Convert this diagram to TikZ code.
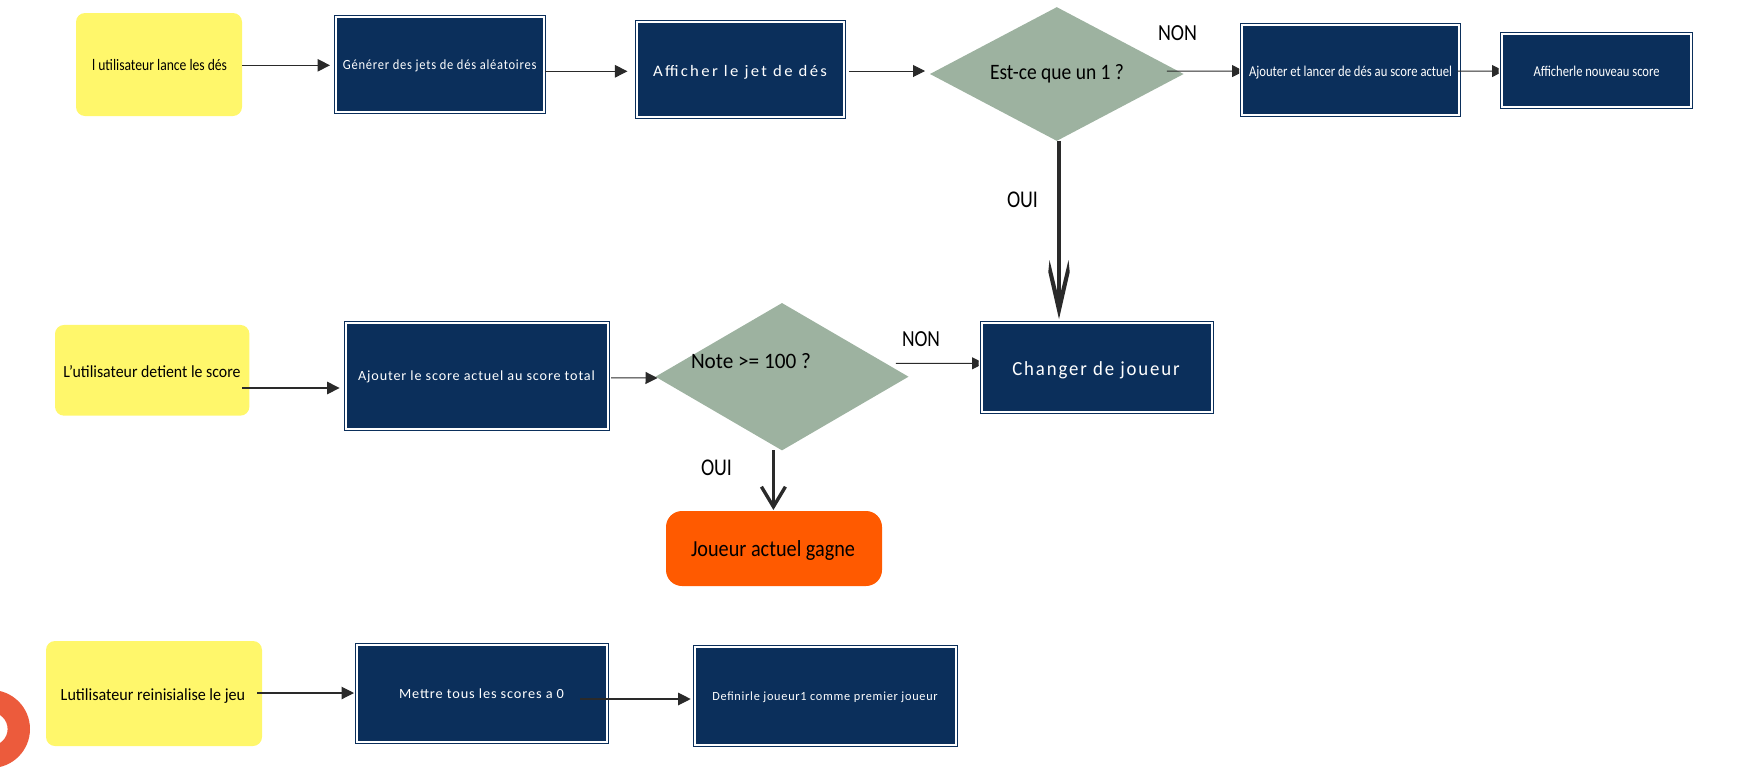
\documentclass[tikz,border=0pt]{standalone}
\usepackage{graphicx}
\usepackage{fontspec}
\setmainfont{Carlito}
\usetikzlibrary{arrows.meta,shapes.geometric,calc}
\definecolor{navy}{HTML}{0B2F5B}
\definecolor{sticky}{HTML}{FFF76B}
\definecolor{sage}{HTML}{9DB2A0}
\definecolor{flame}{HTML}{FF5A00}
\definecolor{coral}{HTML}{EC5B3C}
\definecolor{ink}{HTML}{2A2A2A}
\newcommand\ft[4]{\resizebox{#3}{\height}{\fontsize{#1pt}{#1pt}\selectfont\addfontfeature{LetterSpace=#2}#4}}
\tikzset{
  x=1pt,y=-1pt,
  sbox/.style={rectangle,draw=none,inner sep=0pt,outer sep=0pt,rounded corners=9pt},
  yellowbox/.style={sbox,fill=sticky},
  goalbox/.style={sbox,fill=flame,rounded corners=16pt},
  bluebox/.style={rectangle,inner sep=0pt,outer sep=0pt,fill=navy,draw=navy,line width=1pt,double=white,double distance=2pt},
  choice/.style={diamond,fill=sage,inner sep=0pt,outer sep=0pt},
  dark/.style={anchor=base,inner sep=0pt,text=black},
  light/.style={anchor=base,inner sep=0pt,text=white},
  link/.style={draw=ink,line width=1.1pt,-{Triangle[length=12.5pt,width=12.5pt]}},
  thin link/.style={draw=ink,line width=1pt,-{Triangle[length=12pt,width=12pt]}},
  heavy/.style={draw=ink,line width=3.4pt},
}
\begin{document}
\begin{tikzpicture}
\useasboundingbox (0,0) rectangle (1742,782);
% coral shape
\fill[coral,even odd rule] (-9,729) circle (39) (-9,729) circle (16.6);
% decisions
\node[choice,minimum width=253.6pt,minimum height=133.7pt] (d1) at (1056.8,74) {};
\node[choice,minimum width=253pt,minimum height=147.3pt] (d2) at (782,376.7) {};
% yellow
\node[yellowbox,minimum width=166pt,minimum height=103pt] (y1) at (159,64.5) {};
\node[yellowbox,minimum width=194.4pt,minimum height=90.7pt] (y2) at (152.2,370.3) {};
\node[yellowbox,minimum width=216pt,minimum height=105pt] (y3) at (154,693.5) {};
% goal
\node[goalbox,minimum width=216pt,minimum height=75pt] (g) at (774,548.5) {};
% blue
\node[bluebox,minimum width=208pt,minimum height=95pt] (b1) at (440,64.5) {};
\node[bluebox,minimum width=207.5pt,minimum height=95pt] (b2) at (740.7,69.5) {};
\node[bluebox,minimum width=217pt,minimum height=89.7pt] (b4) at (1350.5,69.9) {};
\node[bluebox,minimum width=188.2pt,minimum height=72.4pt] (b5) at (1596.4,70.5) {};
\node[bluebox,minimum width=262pt,minimum height=105.7pt] (b6) at (477,375.9) {};
\node[bluebox,minimum width=230pt,minimum height=88.7pt] (b7) at (1097,367.4) {};
\node[bluebox,minimum width=250pt,minimum height=96.7pt] (b8) at (482,693.4) {};
\node[bluebox,minimum width=261.4pt,minimum height=97.7pt] (b9) at (825.3,695.9) {};
% texts
\node[dark] (t1) at (159.6,70.7) {\ft{16}{0}{135pt}{l utilisateur lance les dés}};
\node[light] (t2) at (439.7,69.3) {\ft{14}{6}{193.5pt}{Générer des jets de dés aléatoires}};
\node[light] (t3) at (740,76) {\ft{16}{14}{174pt}{Afficher le jet de dés}};
\node[dark] (t4) at (1057,79) {\ft{22}{0}{134pt}{Est-ce que un 1 ?}};
\node[light] (t5) at (1350.5,76) {\ft{15}{0}{203pt}{Ajouter et lancer de dés au score actuel}};
\node[light] (t6) at (1596.5,76) {\ft{15}{0}{126pt}{Afficherle nouveau score}};
\node[dark] (t7) at (152,377.3) {\ft{17}{0}{177pt}{L'utilisateur detient le score}};
\node[light] (t8) at (476.5,380.7) {\ft{14}{6}{236.7pt}{Ajouter le score actuel au score total}};
\node[dark] (t9) at (751,368.3) {\ft{22}{0}{120pt}{Note >= 100 ?}};
\node[light] (t10) at (1096,375.3) {\ft{20}{10}{167.5pt}{Changer de joueur}};
\node[dark] (t11) at (773,556.7) {\ft{23}{0}{164pt}{Joueur actuel gagne}};
\node[dark] (t12) at (153,700) {\ft{17}{0}{184.5pt}{Lutilisateur reinisialise le jeu}};
\node[light] (t13) at (481.5,698.3) {\ft{14}{6}{165pt}{Mettre tous les scores a 0}};
\node[light] (t14) at (825,700.7) {\ft{12.5}{6}{225.5pt}{Definirle joueur1 comme premier joueur}};
\node[dark] (l1) at (1177.5,40.7) {\ft{23}{0}{39pt}{NON}};
\node[dark] (l2) at (1022.5,207) {\ft{24}{0}{31pt}{OUI}};
\node[dark] (l3) at (921,346.7) {\ft{23}{0}{38pt}{NON}};
\node[dark] (l4) at (716.5,475) {\ft{24}{0}{31pt}{OUI}};
% connectors
\draw[link] ([yshift=-0.8pt]y1.east) -- ([xshift=-6pt,yshift=-0.8pt]b1.west);
\draw[link] ([xshift=1pt,yshift=-6.8pt]b1.east) -- ([xshift=-9.5pt,yshift=-1.8pt]b2.west);
\draw[thin link] ([xshift=4.5pt,yshift=-1.5pt]b2.east) -- ([xshift=-5pt,yshift=3pt]d1.west);
\begin{scope}
\clip (1150,0) rectangle (1239,120);
\draw[thin link] ([xshift=-16.8pt,yshift=3pt]d1.east) -- ([xshift=2pt,yshift=-1.2pt]b4.west);
\end{scope}
\begin{scope}
\clip (1450,0) rectangle (1498.5,120);
\draw[thin link] ([xshift=-1.3pt,yshift=-1.2pt]b4.east) -- ([xshift=1.7pt,yshift=-0.5pt]b5.west);
\end{scope}
\draw[link] ([xshift=-7.4pt,yshift=-17.7pt]y2.east) -- ([xshift=-6.4pt,yshift=-12.1pt]b6.west);
\draw[thin link] ([xshift=3pt,yshift=-2pt]b6.east) -- ([xshift=2pt,yshift=-1.3pt]d2.west);
\begin{scope}
\clip (880,300) rectangle (978.5,420);
\draw[thin link] ([xshift=-12.6pt,yshift=13.4pt]d2.east) -- ([xshift=2pt,yshift=4.1pt]b7.west);
\end{scope}
\draw[link] ([xshift=-5pt,yshift=0.5pt]y3.east) -- ([xshift=-3pt,yshift=0.4pt]b8.west);
\draw[link] ([xshift=-27pt,yshift=-5.6pt]b8.east) -- ([xshift=-3.9pt,yshift=-3.1pt]b9.west);
\coordinate (tipA) at ($(d1.south |- b7.north)+(2.2,-4)$);
\draw[heavy] ([xshift=2.2pt]d1.south) -- ($(tipA)+(0,-20)$);
\fill[ink,shift={(tipA)}] (0,0) -- (-10.7,-47) -- (-9.5,-59) -- (-1.5,-26) -- (1.5,-26) -- (9.5,-59) -- (10.7,-47) -- cycle;
\draw[heavy,-{Straight Barb[length=20pt,width=24pt]}] ([xshift=-8.6pt]d2.south) -- ([xshift=-0.6pt,yshift=1pt]g.north);
\end{tikzpicture}
\end{document}
